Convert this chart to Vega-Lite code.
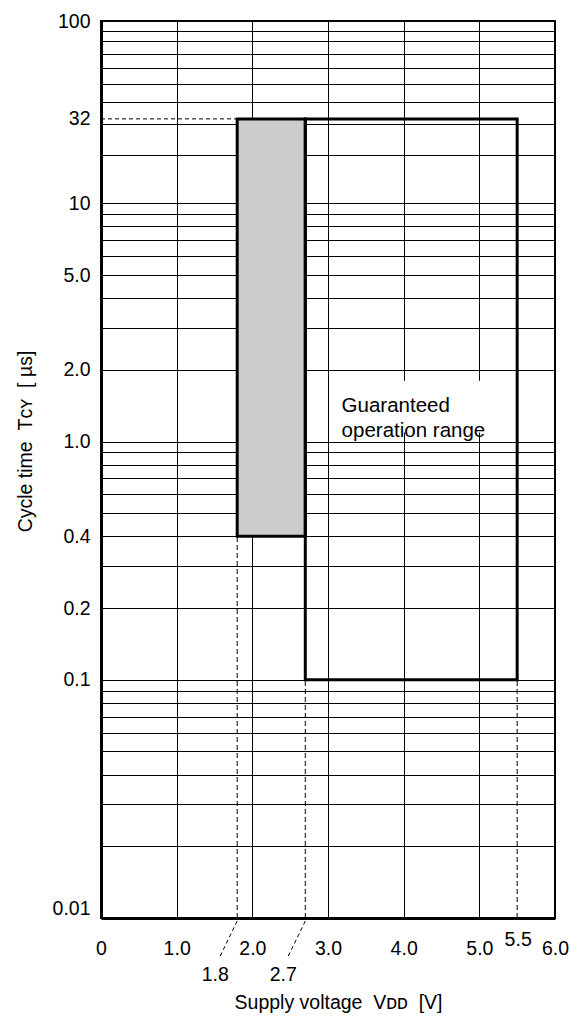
{
  "$schema": "https://vega.github.io/schema/vega-lite/v6.json",
  "width": 454,
  "height": 897,
  "autosize": "none",
  "padding": {"left": 101, "top": 21, "right": 16, "bottom": 105},
  "background": "white",
  "config": {
    "view": {"stroke": "black", "strokeWidth": 2},
    "font": "Liberation Sans",
    "axis": {"labelColor": "black", "titleColor": "black", "labelFont": "Liberation Sans", "titleFont": "Liberation Sans", "titleFontWeight": "normal"}
  },
  "layer": [
    {
      "data": {"values": [{"vmin": 1.8, "vmax": 2.7, "tmin": 0.4, "tmax": 32}]},
      "mark": {"type": "rect", "fill": "#cccccc", "stroke": "black", "strokeWidth": 3},
      "encoding": {
        "x": {
          "field": "vmin", "type": "quantitative",
          "scale": {"domain": [0, 6], "nice": false, "zero": false},
          "axis": {
            "values": [0, 1, 2, 3, 4, 5, 6],
            "title": "Supply voltage\u00a0\u00a0Vᴅᴅ\u00a0\u00a0[V]",
            "labelExpr": "datum.value == 0 ? '0' : format(datum.value, '.1f')",
            "grid": true, "gridColor": "black", "gridWidth": 1,
            "ticks": false, "tickSize": 0,
            "domainColor": "black", "domainWidth": 3,
            "labelFontSize": 19.5, "labelPadding": 21, "labelFlush": false, "labelOverlap": false,
            "titleFontSize": 19.5, "titleX": 237, "titleY": 84, "titleBaseline": "middle", "titleAlign": "center"
          }
        },
        "x2": {"field": "vmax"},
        "y": {
          "field": "tmin", "type": "quantitative",
          "scale": {"type": "log", "domain": [0.01, 10, 20, 50, 100], "range": [897, 182.3, 134.3, 63.3, 0], "nice": false},
          "axis": {
            "values": [0.01, 0.02, 0.03, 0.04, 0.05, 0.06, 0.07, 0.08, 0.09, 0.1, 0.2, 0.3, 0.4, 0.5, 0.6, 0.7, 0.8, 0.9, 1, 2, 3, 4, 5, 6, 7, 8, 9, 10, 20, 30, 32, 40, 50, 60, 70, 80, 90, 100],
            "title": "Cycle time\u00a0\u00a0Tᴄʏ\u00a0\u00a0[\u00a0µs]",
            "labelExpr": "indexof([100, 32, 10, 5, 2, 1, 0.4, 0.2, 0.1, 0.01], datum.value) >= 0 ? (datum.value >= 10 ? format(datum.value, 'd') : (datum.value >= 1 ? format(datum.value, '.1f') : format(datum.value, '~g'))) : ''",
            "grid": true, "gridColor": "black", "gridWidth": 1,
            "gridOpacity": {"condition": {"test": "datum.value == 32", "value": 0}, "value": 1},
            "ticks": false, "tickSize": 0,
            "domainColor": "black", "domainWidth": 3,
            "labelFontSize": 19.5, "labelPadding": 11, "labelOverlap": false,
            "labelBaseline": {"condition": {"test": "datum.value == 0.01", "value": "bottom"}, "value": "middle"},
            "titleFontSize": 19.5, "titleX": -76, "titleY": 420, "titleAngle": -90, "titleAlign": "center", "titleBaseline": "middle"
          }
        },
        "y2": {"field": "tmax"}
      }
    },
    {
      "data": {"values": [{"vmin": 2.7, "vmax": 5.5, "tmin": 0.1, "tmax": 32}]},
      "mark": {"type": "rect", "fill": "white", "fillOpacity": 0, "stroke": "black", "strokeWidth": 3},
      "encoding": {
        "x": {"field": "vmin", "type": "quantitative"},
        "x2": {"field": "vmax"},
        "y": {"field": "tmin", "type": "quantitative"},
        "y2": {"field": "tmax"}
      }
    },
    {
      "data": {"values": [{"vmin": 3.07, "vmax": 5.3, "tmin": 1.09, "tmax": 1.8}]},
      "mark": {"type": "rect", "fill": "white"},
      "encoding": {
        "x": {"field": "vmin", "type": "quantitative"},
        "x2": {"field": "vmax"},
        "y": {"field": "tmin", "type": "quantitative"},
        "y2": {"field": "tmax"}
      }
    },
    {
      "data": {"values": [{"v": 3.18, "t": 1.405, "label": "Guaranteed\noperation range"}]},
      "mark": {"type": "text", "align": "left", "baseline": "middle", "lineBreak": "\n", "lineHeight": 25, "fontSize": 20.5, "font": "Liberation Sans", "color": "black"},
      "encoding": {
        "x": {"field": "v", "type": "quantitative"},
        "y": {"field": "t", "type": "quantitative"},
        "text": {"field": "label"}
      }
    },
    {
      "data": {"values": [{"v": 1.8, "lo": 0.01, "hi": 0.4}, {"v": 2.7, "lo": 0.01, "hi": 0.1}, {"v": 5.5, "lo": 0.01, "hi": 0.1}]},
      "mark": {"type": "rule", "color": "black", "strokeWidth": 1, "strokeDash": [5, 3]},
      "encoding": {
        "x": {"field": "v", "type": "quantitative"},
        "y": {"field": "lo", "type": "quantitative"},
        "y2": {"field": "hi"}
      }
    },
    {
      "data": {"values": [{"t": 32, "from": 0, "to": 1.8}]},
      "mark": {"type": "rule", "color": "black", "strokeWidth": 1, "strokeDash": [4, 3]},
      "encoding": {
        "y": {"field": "t", "type": "quantitative"},
        "x": {"field": "from", "type": "quantitative"},
        "x2": {"field": "to"}
      }
    },
    {
      "data": {"values": [{"v": 1.8}, {"v": 2.7}]},
      "mark": {"type": "rule", "color": "black", "strokeWidth": 1, "strokeDash": [4, 3], "yOffset": 3, "y2Offset": 38, "x2Offset": -17},
      "encoding": {
        "x": {"field": "v", "type": "quantitative"},
        "x2": {"field": "v"},
        "y": {"datum": 0.01, "type": "quantitative"},
        "y2": {"datum": 0.01}
      }
    },
    {
      "data": {"values": [{"v": 1.8, "label": "1.8"}, {"v": 2.7, "label": "2.7"}]},
      "mark": {"type": "text", "fontSize": 19.5, "font": "Liberation Sans", "color": "black", "baseline": "middle", "align": "center", "dx": -22, "dy": 57},
      "encoding": {
        "x": {"field": "v", "type": "quantitative"},
        "y": {"datum": 0.01, "type": "quantitative"},
        "text": {"field": "label"}
      }
    },
    {
      "data": {"values": [{"v": 5.5, "label": "5.5"}]},
      "mark": {"type": "text", "fontSize": 19.5, "font": "Liberation Sans", "color": "black", "baseline": "middle", "align": "center", "dx": 1, "dy": 22},
      "encoding": {
        "x": {"field": "v", "type": "quantitative"},
        "y": {"datum": 0.01, "type": "quantitative"},
        "text": {"field": "label"}
      }
    }
  ]
}
